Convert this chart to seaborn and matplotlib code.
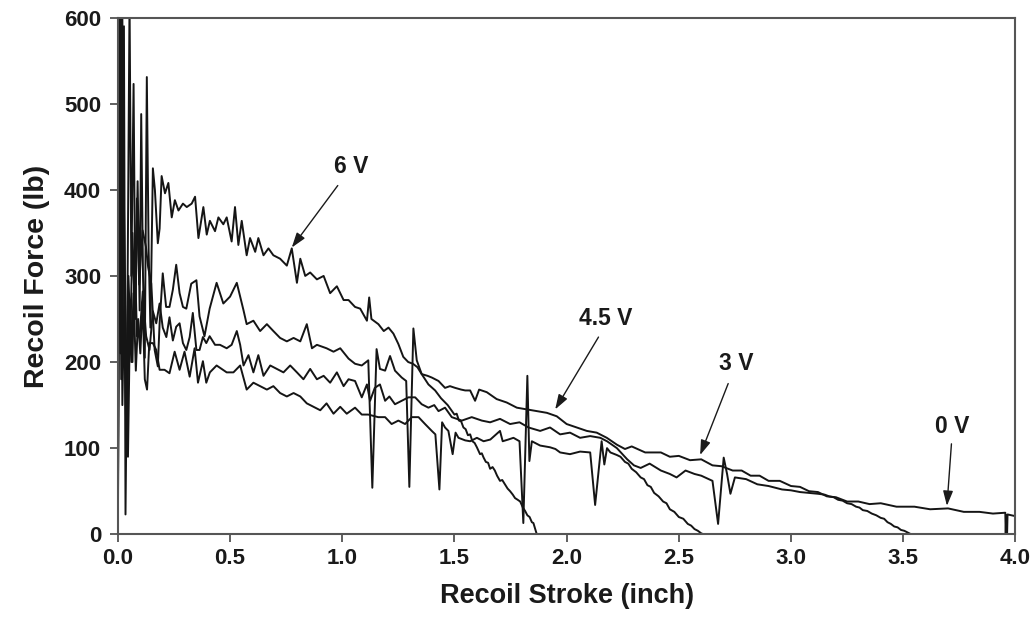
import numpy as np
import pandas as pd
import matplotlib
matplotlib.use("Agg")
import matplotlib.pyplot as plt
import seaborn as sns

# ---------------- data ----------------
x_ticks = [0.0, 0.5, 1.0, 1.5, 2.0, 2.5, 3.0, 3.5, 4.0]
y_ticks = [0, 100, 200, 300, 400, 500, 600]

# 6 V curve
A_x = [0.000, 0.004, 0.009, 0.014, 0.020, 0.027, 0.034, 0.042, 0.052, 0.060,
       0.070, 0.078, 0.088, 0.097, 0.104, 0.112, 0.120, 0.129, 0.137, 0.145,
       0.156, 0.165, 0.178, 0.186, 0.195, 0.210, 0.225, 0.240, 0.254, 0.270,
       0.290, 0.307, 0.329, 0.344, 0.359, 0.381, 0.396, 0.410, 0.433, 0.448,
       0.470, 0.485, 0.507, 0.522, 0.537, 0.552, 0.574, 0.589, 0.612, 0.626,
       0.649, 0.671, 0.693, 0.723, 0.753, 0.775, 0.798, 0.813, 0.835, 0.857,
       0.887, 0.917, 0.946, 0.976, 1.006, 1.028, 1.057, 1.080, 1.110, 1.120,
       1.130, 1.161, 1.185, 1.206, 1.228, 1.250, 1.272, 1.294, 1.315, 1.335,
       1.354, 1.384, 1.414, 1.440, 1.470, 1.500, 1.510, 1.520, 1.530, 1.540,
       1.550, 1.560, 1.570, 1.580, 1.590, 1.600, 1.614, 1.622, 1.630, 1.640,
       1.650, 1.659, 1.670, 1.680, 1.690, 1.703, 1.713, 1.725, 1.737, 1.748,
       1.760, 1.770, 1.782, 1.793, 1.805, 1.815, 1.825, 1.835, 1.845, 1.852,
       1.860, 1.867]
A_y = [0, 620, 280, 620, 220, 590, 23, 240, 620, 300,
       523, 250, 410, 260, 488, 300, 205, 531, 330, 240,
       425, 400, 338, 355, 416, 396, 408, 368, 388, 376,
       384, 380, 384, 392, 344, 380, 348, 364, 352, 368,
       360, 368, 340, 380, 336, 364, 324, 344, 328, 344,
       324, 332, 324, 320, 312, 332, 292, 320, 300, 304,
       296, 300, 280, 288, 272, 272, 264, 262, 248, 275,
       250, 244, 236, 240, 233, 221, 206, 200, 198, 194,
       186, 174, 167, 158, 150, 139, 140, 132, 131, 124,
       122, 115, 116, 108, 106, 101, 93, 94, 89, 84,
       83, 76, 78, 74, 68, 62, 63, 58, 53, 50,
       46, 42, 40, 38, 31, 27, 22, 20, 14, 13,
       6, 0]

# curve that runs to the end of the stroke (0 V)
B_x = [0.000, 0.006, 0.012, 0.020, 0.030, 0.039, 0.047, 0.056, 0.065, 0.075,
       0.085, 0.095, 0.110, 0.125, 0.135, 0.149, 0.164, 0.178, 0.186, 0.200,
       0.215, 0.230, 0.245, 0.260, 0.275, 0.290, 0.305, 0.327, 0.350, 0.364,
       0.386, 0.409, 0.440, 0.470, 0.500, 0.530, 0.560, 0.574, 0.604, 0.634,
       0.664, 0.693, 0.723, 0.753, 0.783, 0.813, 0.842, 0.865, 0.887, 0.930,
       0.961, 0.991, 1.028, 1.057, 1.087, 1.116, 1.134, 1.153, 1.168, 1.191,
       1.213, 1.235, 1.265, 1.285, 1.299, 1.317, 1.332, 1.354, 1.380, 1.399,
       1.429, 1.458, 1.480, 1.503, 1.530, 1.548, 1.570, 1.592, 1.610, 1.644,
       1.688, 1.733, 1.778, 1.823, 1.867, 1.912, 1.956, 2.000, 2.045, 2.090,
       2.134, 2.179, 2.224, 2.260, 2.290, 2.350, 2.420, 2.460, 2.500, 2.550,
       2.600, 2.650, 2.690, 2.740, 2.780, 2.820, 2.860, 2.900, 2.950, 3.000,
       3.040, 3.080, 3.120, 3.160, 3.200, 3.250, 3.300, 3.350, 3.400, 3.470,
       3.550, 3.620, 3.700, 3.770, 3.840, 3.900, 3.955, 3.957, 3.959, 3.961,
       3.963, 3.965, 4.000]
B_y = [0, 620, 210, 600, 220, 96, 300, 230, 350, 260,
       390, 290, 353, 334, 310, 291, 214, 195, 245, 303,
       264, 264, 284, 313, 280, 264, 262, 291, 295, 253,
       230, 262, 292, 268, 276, 292, 260, 244, 248, 236,
       244, 236, 228, 224, 228, 224, 244, 216, 220, 216,
       212, 216, 204, 198, 196, 202, 54, 215, 192, 190,
       207, 190, 182, 178, 55, 239, 202, 186, 184, 182,
       178, 170, 172, 170, 168, 167, 167, 155, 168, 165,
       157, 153, 147, 145, 143, 141, 137, 128, 124, 120,
       118, 112, 104, 99, 102, 95, 95, 90, 91, 86,
       87, 80, 79, 74, 74, 68, 68, 62, 62, 56,
       55, 50, 49, 44, 43, 38, 38, 35, 36, 32,
       32, 29, 30, 26, 26, 24, 25, 0, 22, 0,
       0, 23, 21]

# curve ending near 3.5 inch (3 V)
C_x = [0.000, 0.008, 0.015, 0.025, 0.035, 0.045, 0.055, 0.065, 0.075, 0.085,
       0.097, 0.111, 0.126, 0.141, 0.156, 0.171, 0.186, 0.200, 0.216, 0.230,
       0.245, 0.260, 0.275, 0.290, 0.305, 0.320, 0.334, 0.350, 0.364, 0.379,
       0.394, 0.409, 0.433, 0.455, 0.485, 0.507, 0.530, 0.545, 0.560, 0.582,
       0.604, 0.626, 0.649, 0.679, 0.708, 0.738, 0.768, 0.798, 0.827, 0.857,
       0.887, 0.917, 0.946, 0.976, 1.006, 1.028, 1.057, 1.087, 1.110, 1.124,
       1.145, 1.168, 1.191, 1.210, 1.235, 1.265, 1.295, 1.325, 1.354, 1.384,
       1.410, 1.429, 1.458, 1.488, 1.533, 1.577, 1.622, 1.659, 1.703, 1.748,
       1.790, 1.830, 1.882, 1.926, 1.971, 2.015, 2.060, 2.105, 2.150, 2.180,
       2.224, 2.270, 2.300, 2.330, 2.370, 2.420, 2.460, 2.490, 2.530, 2.570,
       2.600, 2.650, 2.675, 2.700, 2.715, 2.730, 2.750, 2.800, 2.850, 2.900,
       2.960, 3.000, 3.040, 3.080, 3.120, 3.150, 3.170, 3.190, 3.210, 3.230,
       3.250, 3.270, 3.290, 3.305, 3.320, 3.340, 3.360, 3.380, 3.400, 3.415,
       3.430, 3.445, 3.460, 3.475, 3.490, 3.505, 3.520, 3.535]
C_y = [0, 620, 180, 420, 240, 90, 270, 200, 330, 230,
       230, 282, 230, 214, 259, 245, 268, 240, 229, 252,
       225, 241, 245, 222, 214, 229, 257, 214, 214, 229,
       222, 230, 220, 220, 216, 220, 236, 220, 196, 208,
       188, 208, 184, 196, 192, 188, 196, 188, 180, 192,
       180, 184, 176, 188, 172, 180, 178, 159, 174, 155,
       170, 174, 155, 160, 151, 155, 159, 159, 151, 147,
       150, 143, 147, 136, 132, 136, 132, 130, 134, 128,
       130, 124, 120, 124, 116, 118, 112, 114, 112, 108,
       100, 87, 80, 77, 82, 74, 70, 66, 74, 70,
       68, 62, 12, 89, 70, 47, 66, 64, 58, 56,
       52, 51, 49, 48, 47, 46, 44, 43, 40, 39,
       36, 35, 32, 31, 28, 27, 24, 22, 19, 18,
       14, 12, 9, 8, 5, 4, 2, 0]

# curve ending near 2.6 inch (4.5 V)
D_x = [0.000, 0.010, 0.020, 0.030, 0.040, 0.050, 0.060, 0.070, 0.080, 0.090,
       0.100, 0.110, 0.120, 0.130, 0.140, 0.156, 0.171, 0.186, 0.208, 0.230,
       0.253, 0.275, 0.297, 0.320, 0.342, 0.357, 0.379, 0.394, 0.410, 0.440,
       0.485, 0.515, 0.545, 0.574, 0.604, 0.634, 0.664, 0.693, 0.723, 0.753,
       0.783, 0.813, 0.842, 0.872, 0.902, 0.930, 0.961, 0.991, 1.020, 1.057,
       1.087, 1.116, 1.160, 1.191, 1.220, 1.250, 1.280, 1.310, 1.340, 1.369,
       1.399, 1.415, 1.433, 1.445, 1.458, 1.473, 1.492, 1.505, 1.518, 1.548,
       1.570, 1.600, 1.630, 1.660, 1.703, 1.715, 1.740, 1.763, 1.790, 1.807,
       1.825, 1.834, 1.845, 1.882, 1.926, 1.950, 1.971, 2.015, 2.060, 2.105,
       2.127, 2.156, 2.168, 2.180, 2.195, 2.224, 2.240, 2.260, 2.275, 2.290,
       2.310, 2.330, 2.345, 2.360, 2.375, 2.390, 2.410, 2.430, 2.445, 2.460,
       2.480, 2.500, 2.520, 2.540, 2.555, 2.570, 2.585, 2.600, 2.610]
D_y = [0, 600, 150, 300, 120, 260, 200, 280, 190, 250,
       210, 270, 180, 168, 222, 222, 214, 191, 191, 187,
       212, 191, 212, 183, 216, 176, 201, 176, 188, 196,
       188, 188, 196, 168, 176, 172, 168, 172, 164, 160,
       164, 160, 152, 148, 144, 152, 140, 148, 140, 147,
       139, 139, 136, 136, 128, 132, 128, 136, 136, 128,
       120, 116, 52, 130, 124, 120, 93, 118, 112, 109,
       108, 112, 108, 110, 120, 108, 110, 112, 108, 13,
       184, 85, 108, 103, 101, 99, 95, 93, 96, 95,
       34, 108, 81, 100, 95, 92, 90, 84, 82, 76,
       72, 66, 64, 57, 55, 48, 44, 38, 36, 29,
       26, 20, 18, 12, 10, 6, 4, 1, 0]

labels = ["6 V", "4.5 V", "3 V", "0 V"]
label_pos = [(1.042, 427), (2.175, 250), (2.755, 198), (3.718, 125)]
arrow_from = [(0.980, 405), (2.142, 229), (2.720, 175), (3.715, 105)]
arrow_to = [(0.775, 333), (1.949, 145), (2.595, 92), (3.695, 33)]

# ---------------- plotting ----------------
sns.set_style("ticks")
plt.rcParams["font.family"] = ["Liberation Sans", "DejaVu Sans"]
plt.rcParams["font.weight"] = "bold"

fig, ax = plt.subplots(figsize=(10.34, 6.30), dpi=100)
fig.subplots_adjust(left=0.114, right=0.982, top=0.972, bottom=0.152)

series = [("6 V", A_x, A_y), ("0 V", B_x, B_y), ("3 V", C_x, C_y), ("4.5 V", D_x, D_y)]
for name, xs, ys in series:
    assert len(xs) == len(ys), name
    df = pd.DataFrame({"stroke": xs, "force": ys})
    sns.lineplot(data=df, x="stroke", y="force", estimator=None, sort=False,
                 color="#151515", linewidth=1.4, ax=ax)

ax.set_xlim(0, 4.0)
ax.set_ylim(0, 600)
ax.set_xticks(x_ticks)
ax.set_xticklabels([f"{v:.1f}" for v in x_ticks])
ax.set_yticks(y_ticks)
ax.set_yticklabels([str(v) for v in y_ticks])
ax.tick_params(direction="out", length=6, width=1.2, labelsize=16, color="#444444",
               labelcolor="#1a1a1a")
ax.tick_params(axis="x", pad=4)
ax.tick_params(axis="y", pad=6)
for sp in ax.spines.values():
    sp.set_visible(True)
    sp.set_color("#555555")
    sp.set_linewidth(1.5)

ax.set_xlabel("Recoil Stroke (inch)", fontsize=19.5, fontweight="bold", labelpad=10, color="#1a1a1a")
ax.set_ylabel("Recoil Force (lb)", fontsize=20.5, fontweight="bold", labelpad=10, color="#1a1a1a")

for lab, pos, a0, a1 in zip(labels, label_pos, arrow_from, arrow_to):
    ax.text(pos[0], pos[1], lab, ha="center", va="center", fontsize=16.5,
            fontweight="bold", color="#1a1a1a")
    ax.annotate("", xy=a1, xytext=a0,
                arrowprops=dict(arrowstyle="-|>,head_length=0.9,head_width=0.3",
                                color="#1a1a1a", lw=1.0, shrinkA=0, shrinkB=0))

fig.savefig("out.png", dpi=100)
